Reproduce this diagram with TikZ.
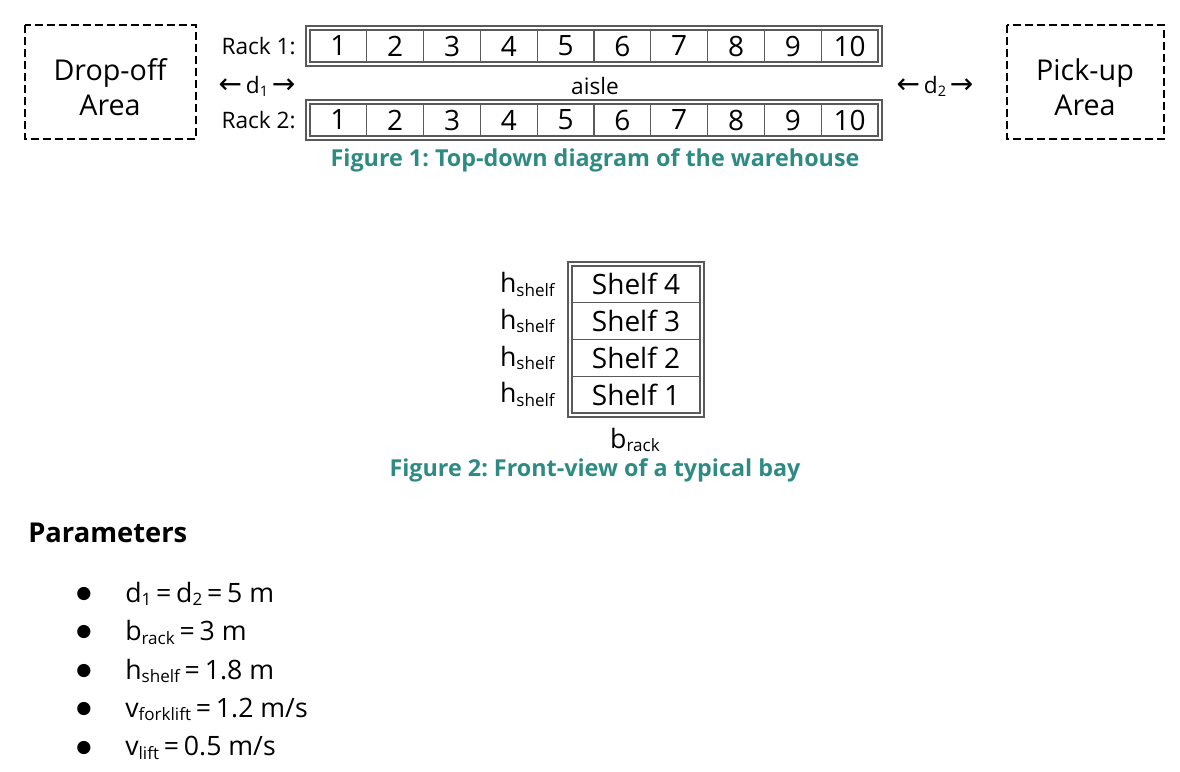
\documentclass[tikz,border=0pt]{standalone}
\usepackage{fontspec}
\setmainfont{Open Sans}
\newfontfamily\arrowfont{DejaVu Sans}
\usepackage{tikz}
\usetikzlibrary{positioning}

\definecolor{capteal}{RGB}{46,139,132}
\definecolor{rackgray}{RGB}{90,90,90}
\newcommand{\sbs}[1]{\raisebox{-0.25ex}{\scalebox{0.64}{#1}}}
\newcommand{\larr}{{\arrowfont\fontsize{21}{17}\selectfont ←}}
\newcommand{\rarr}{{\arrowfont\fontsize{21}{17}\selectfont →}}
\newcommand{\eqs}{\hspace{0.18em}=\hspace{0.18em}}
\frenchspacing

\tikzset{
  areabox/.style={line width=1.5pt, dash pattern=on 6pt off 3pt},
  areatext/.style={align=center, font=\fontsize{21.5}{26}\selectfont},
  racklabel/.style={anchor=east, inner sep=0pt, font=\fontsize{17}{18}\selectfont},
  cell/.style={inner sep=0pt, font=\fontsize{21}{22}\selectfont},
  frame/.style={draw=rackgray, line width=0.8pt},
  caption/.style={text=capteal, font=\fontsize{17.5}{18}\selectfont\bfseries},
  dimlabel/.style={inner sep=0pt, font=\fontsize{17}{18}\selectfont},
  param/.style={anchor=west, inner sep=0pt, font=\fontsize{20}{22}\selectfont}
}

\begin{document}
\begin{tikzpicture}[x=0.75pt, y=-0.75pt]
\useasboundingbox (0,0) rectangle (1180,771);

% top-down view
\draw [areabox] (25,25) rectangle (196,139);
\node [areatext] (drop) at (110,87) {Drop-off\\Area};
\draw [areabox] (1007,25) rectangle (1164,139);
\node [areatext] (pick) at (1085,87) {Pick-up\\Area};

\node [racklabel] (rackA) at (296,46) {Rack 1:};
\node [racklabel] (rackB) at (296,120) {Rack 2:};

\foreach \r/\top in {1/26, 2/100} {
  \draw [frame] (306,\top) rectangle (882,\top+40);
  \draw [frame] (310,\top+4) rectangle (878,\top+36);
  \foreach \c in {1,...,10} {
    \pgfmathsetmacro{\xl}{310+(\c-1)*56.8}
    \ifnum\c>1 \draw [frame] (\xl,\top+4) -- (\xl,\top+36); \fi
    \node [cell] (r\r c\c) at (\xl+28.4,\top+20) {\c};
  }
}

\node [dimlabel] (dA) at (257,86) {\larr\,d\sbs{1}\,\rarr};
\node [dimlabel] (aisle) at (595,86) {aisle};
\node [dimlabel] (dB) at (935,86) {\larr\,d\sbs{2}\,\rarr};

\node [caption] (capA) at (595,160) {Figure 1: Top-down diagram of the warehouse};

% front view of a bay
\draw [frame] (568,262) rectangle (704,417);
\draw [frame] (572,266) rectangle (700,413);
\foreach \s in {1,...,4} {
  \pgfmathsetmacro{\yt}{413-\s*36.75}
  \ifnum\s<4 \draw [frame] (572,\yt) -- (700,\yt); \fi
  \node [cell] (shelf\s) at (636,\yt+18.4) {Shelf \s};
  \node [racklabel, font=\fontsize{20}{22}\selectfont] (h\s) at (555,\yt+18.4) {h\sbs{shelf}};
}
\node [dimlabel, font=\fontsize{20}{22}\selectfont] (brack) at (635,440) {b\sbs{rack}};

\node [caption] (capB) at (595,470) {Figure 2: Front-view of a typical bay};

% parameters
\node [param, font=\fontsize{20.5}{22}\selectfont\bfseries] (ptitle) at (28,533) {Parameters};
\foreach \i/\txt in {1/{d\sbs{1}\eqs d\sbs{2}\eqs 5 m},
                     2/{b\sbs{rack}\eqs 3 m},
                     3/{h\sbs{shelf}\eqs 1.8 m},
                     4/{v\sbs{forklift}\eqs 1.2 m/s},
                     5/{v\sbs{lift}\eqs 0.5 m/s}} {
  \pgfmathsetmacro{\yp}{594+(\i-1)*38.5}
  \node [param, font=\arrowfont\fontsize{13}{14}\selectfont] (b\i) at (76,\yp) {●};
  \node [param] (p\i) at (125,\yp) {\txt};
}
\end{tikzpicture}
\end{document}
